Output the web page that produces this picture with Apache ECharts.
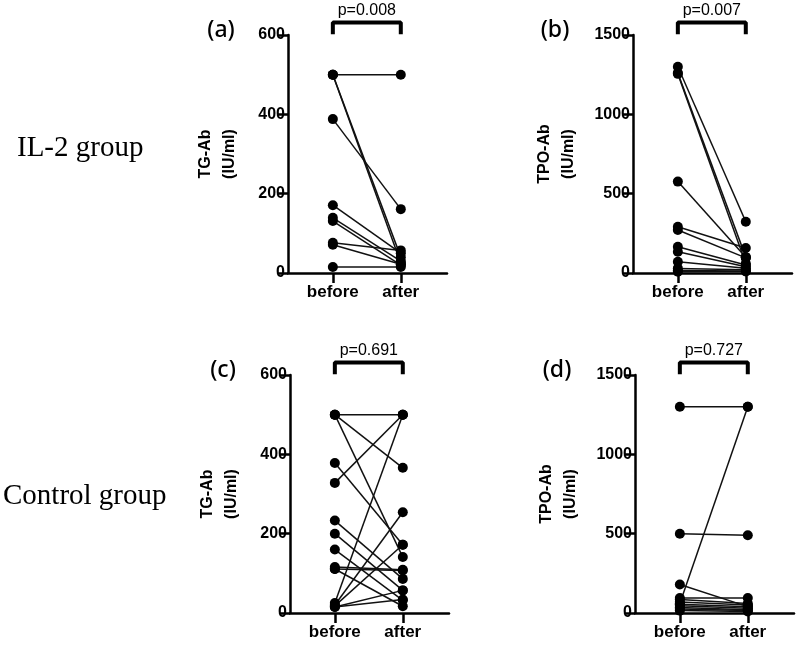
<!DOCTYPE html>
<html>
<head>
<meta charset="utf-8">
<script src="https://cdn.jsdelivr.net/npm/echarts@6/dist/echarts.min.js"></script>
<style>
  html, body { margin: 0; padding: 0; background: #fff; }
  #main { width: 800px; height: 647px; }
</style>
</head>
<body>
<div id="main"></div>
<script>
// paired values
const timePoints = ['before', 'after'];

const aBefore = [500, 500, 500, 388, 171, 139, 131, 76, 71, 15];
const aAfter  = [500, 40, 25, 161, 50, 30, 20, 57, 22, 15];

const bBefore = [1300, 1260, 1255, 576, 292, 271, 166, 134, 71, 29, 15, 8];
const bAfter  = [323, 100, 60, 100, 158, 95, 50, 40, 30, 20, 12, 10];

const cBefore = [500, 500, 500, 378, 328, 233, 200, 160, 116, 111, 111, 25, 20, 18, 15, 15];
const cAfter  = [500, 366, 141, 172, 500, 86, 57, 32, 109, 107, 17, 500, 254, 172, 57, 34];

const dBefore = [1300, 500, 180, 60, 95, 85, 70, 55, 45, 35, 25, 15];
const dAfter  = [1300, 490, 40, 1300, 95, 60, 50, 40, 30, 20, 15, 10];

const yMax = [600, 1500, 600, 1500];
const yStep = [200, 500, 200, 500];
const yNames = ['TG-Ab\n(IU/ml)', 'TPO-Ab\n(IU/ml)', 'TG-Ab\n(IU/ml)', 'TPO-Ab\n(IU/ml)'];
const letters = ['(a)', '(b)', '(c)', '(d)'];
const pValues = ['p=0.008', 'p=0.007', 'p=0.691', 'p=0.727'];

const panels = [[aBefore, aAfter], [bBefore, bAfter], [cBefore, cAfter], [dBefore, dAfter]];

// layout
const gridPos = [[288, 35], [633, 35], [290, 375], [635, 375]];
const gw = 159, gh = 238;
const xMin = -0.66, xMax = 1.68;
const unit = gw / (xMax - xMin);

const chart = echarts.init(document.getElementById('main'));

const grid = [], xAxis = [], yAxis = [], series = [], graphic = [];
gridPos.forEach((p, i) => {
  grid.push({ left: p[0], top: p[1], width: gw, height: gh });
  xAxis.push({
    type: 'value', gridIndex: i, min: xMin, max: xMax,
    axisLine: { onZero: false, lineStyle: { color: '#000', width: 2.5 } },
    axisTick: { customValues: [0, 1], length: 10, lineStyle: { color: '#000', width: 2.5 } },
    axisLabel: {
      customValues: [0, 1], margin: 11, color: '#000',
      fontFamily: 'Liberation Sans', fontWeight: 'bold', fontSize: 17,
      formatter: v => timePoints[Math.round(v)]
    },
    splitLine: { show: false }
  });
  yAxis.push({
    type: 'value', gridIndex: i, min: 0, max: yMax[i], interval: yStep[i],
    name: yNames[i], nameLocation: 'middle', nameRotate: 90,
    nameGap: yMax[i] > 1000 ? 52 : 46,
    nameTextStyle: { color: '#000', fontFamily: 'Liberation Sans', fontWeight: 'bold', fontSize: 16, lineHeight: 24 },
    axisLine: { show: true, onZero: false, lineStyle: { color: '#000', width: 2.5 } },
    axisTick: { show: true, length: 10, lineStyle: { color: '#000', width: 2.5 } },
    axisLabel: {
      margin: 3, color: '#000', fontFamily: 'Liberation Sans', fontWeight: 'bold', fontSize: 16,
      formatter: v => String(v)
    },
    splitLine: { show: false }
  });

  const [before, after] = panels[i];
  before.forEach((b, k) => {
    series.push({
      type: 'line', xAxisIndex: i, yAxisIndex: i,
      data: [[0, b], [1, after[k]]],
      symbol: 'circle', symbolSize: 10, showSymbol: true,
      itemStyle: { color: '#000' },
      lineStyle: { color: '#111', width: 1.5 },
      silent: true, animation: false
    });
  });

  // significance bracket above the axis
  const top = yMax[i] * 1.052, foot = yMax[i] * 1.003;
  series.push({
    type: 'line', xAxisIndex: i, yAxisIndex: i, clip: false,
    data: [[0, foot], [0, top], [1, top], [1, foot]],
    symbol: 'none', lineStyle: { color: '#000', width: 4 },
    silent: true, animation: false
  });

  const cx = p[0] + (0.5 - xMin) * unit;
  graphic.push({
    type: 'text', x: cx, y: p[1] - 24,
    style: { text: pValues[i], fill: '#000', font: '16px "Liberation Sans"', textAlign: 'center', textVerticalAlign: 'middle' }
  });
  graphic.push({
    type: 'text', x: p[0] - (yMax[i] > 1000 ? 78 : 67), y: p[1] - 5,
    style: { text: letters[i], fill: '#000', font: '500 23px "Noto Sans"', textAlign: 'center', textVerticalAlign: 'middle' }
  });
});

graphic.push({
  type: 'text', x: 17, y: 148,
  style: { text: 'IL-2 group', fill: '#000', font: '29px "Liberation Serif"', textVerticalAlign: 'middle' }
});
graphic.push({
  type: 'text', x: 3, y: 496,
  style: { text: 'Control group', fill: '#000', font: '29px "Liberation Serif"', textVerticalAlign: 'middle' }
});

chart.setOption({
  animation: false,
  grid, xAxis, yAxis, series, graphic
});
</script>
</body>
</html>
